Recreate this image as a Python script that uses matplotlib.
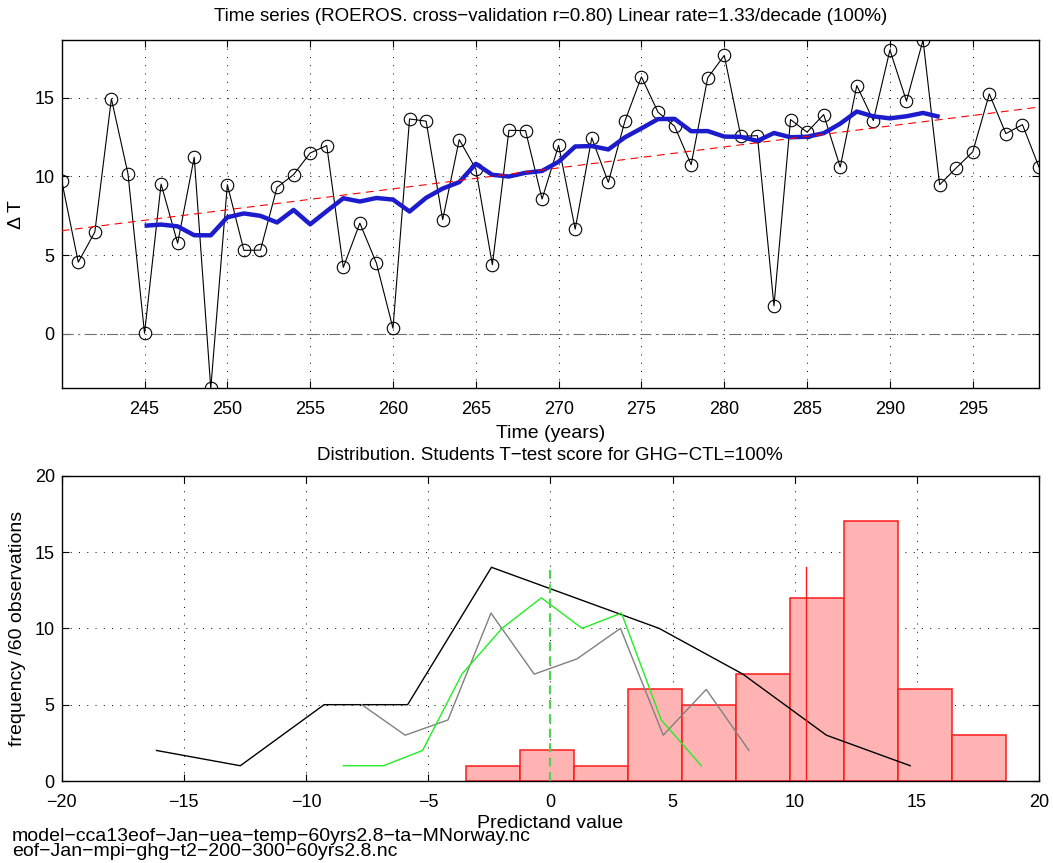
import numpy as np
import matplotlib
matplotlib.use("Agg")
import matplotlib.pyplot as plt

plt.rcParams['font.family'] = ['Liberation Sans', 'DejaVu Sans']
plt.rcParams['font.size'] = 13

# ---- Time series of the predictand (annual values) ----
years = np.arange(240, 300)
delta_t = [
    9.72, 4.55, 6.46, 14.92, 10.17, 0.04, 9.51, 5.76, 11.21, -3.45,
    9.47, 5.30, 5.32, 9.30, 10.11, 11.48, 11.95, 4.22, 7.03, 4.49,
    0.36, 13.64, 13.50, 7.25, 12.33, 10.47, 4.39, 12.92, 12.90, 8.56,
    11.97, 6.65, 12.44, 9.62, 13.50, 16.31, 14.07, 13.18, 10.74, 16.25,
    17.67, 12.54, 12.58, 1.78, 13.60, 12.80, 13.92, 10.59, 15.76, 13.54,
    18.01, 14.77, 18.65, 9.47, 10.53, 11.55, 15.23, 12.71, 13.28, 10.59,
]
rate_per_decade = 1.33
smooth_window = 10
smooth_first, smooth_last = 245, 293

# ---- Distribution panel: other model runs (frequency per bin) ----
ctl_x = [-16.12, -12.69, -9.26, -5.84, -2.41, 1.02, 4.45, 7.88, 11.30, 14.73]
ctl_n = [2, 1, 5, 5, 14, 12, 10, 7, 3, 1]
gray_x = [-7.72, -5.94, -4.19, -2.43, -0.66, 1.09, 2.87, 4.62, 6.38, 8.13]
gray_n = [5, 3, 4, 11, 7, 8, 10, 3, 6, 2]
green_x = [-8.47, -6.83, -5.23, -3.62, -1.98, -0.37, 1.30, 2.91, 4.54, 6.18]
green_n = [1, 1, 2, 7, 10, 12, 10, 11, 4, 1]
ctl_mean = 0.0
marker_height = 14

title_top = "Time series (ROEROS. cross\u2212validation r=0.80) Linear rate=1.33/decade (100%)"
title_bottom = "Distribution. Students T\u2212test score for GHG\u2212CTL=100%"
file_lines = ["model\u2212cca13eof\u2212Jan\u2212uea\u2212temp\u221260yrs2.8\u2212ta\u2212MNorway.nc",
              "eof\u2212Jan\u2212mpi\u2212ghg\u2212t2\u2212200\u2212300\u221260yrs2.8.nc"]

TICK_FS, LABEL_FS, TITLE_FS = 13, 14, 13.5

W, H = 1053, 863
fig = plt.figure(figsize=(W / 100, H / 100), dpi=100)


def frac_axes(x0, y0, x1, y1):
    return fig.add_axes([x0 / W, 1 - y1 / H, (x1 - x0) / W, (y1 - y0) / H])


grid_kw = dict(color='black', linestyle=(0, (1, 7.5)), linewidth=0.7)


def style(ax):
    ax.tick_params(direction='in', top=True, right=True, length=5, width=0.8,
                   labelsize=TICK_FS)
    ax.tick_params(axis='x', pad=9)
    ax.tick_params(axis='y', pad=5)
    for s in ax.spines.values():
        s.set_linewidth(1.0)
    ax.grid(True, **grid_kw)
    ax.set_axisbelow(True)


# ---------------- top panel ----------------
ax1 = frac_axes(61.7, 40, 1039, 388.3)
series = np.array(delta_t)
ax1.plot(years, series, color='black', lw=0.8, marker='o', ms=9,
         mfc='none', mec='black', mew=0.8, zorder=3)

# running mean
run = np.convolve(series, np.ones(smooth_window) / smooth_window, mode='valid')
run_years = years[:len(run)] + smooth_window // 2 - 1
sel = (run_years >= smooth_first) & (run_years <= smooth_last)
ax1.plot(run_years[sel], run[sel], color='#1c1ccc', lw=3.2, zorder=4,
         solid_capstyle='butt')

# linear trend
slope = rate_per_decade / 10.0
x_bar, y_bar = years.mean(), series.mean()
tx = np.array([years[0], years[-1]])
ax1.plot(tx, y_bar + slope * (tx - x_bar), color='red', lw=0.8,
         dashes=(7, 5), zorder=5)
ax1.axhline(0, color='#707070', lw=0.8, linestyle=(0, (10, 4, 2, 4)), zorder=2)

ax1.set_xlim(years[0], years[-1])
ax1.set_ylim(series.min(), series.max())
ax1.set_xticks(np.arange(245, 300, 5))
ax1.set_yticks([0, 5, 10, 15])
style(ax1)
ax1.set_title(title_top, fontsize=TITLE_FS, pad=13.5)
ax1.set_xlabel("Time (years)", fontsize=LABEL_FS, labelpad=5)
ax1.set_ylabel("\u0394 T", fontsize=LABEL_FS, labelpad=7)

# ---------------- bottom panel ----------------
ax2 = frac_axes(61.7, 475.7, 1039, 781)
ax2.hist(series, bins=10, facecolor='#ffb3b3', edgecolor='#ff1a1a',
         linewidth=1.1, zorder=2)
ax2.plot(ctl_x, ctl_n, color='black', lw=1.0, zorder=4)
ax2.plot(gray_x, gray_n, color='#808080', lw=1.0, zorder=4)
ax2.plot(green_x, green_n, color='#22ee22', lw=1.0, zorder=4)
ax2.plot([ctl_mean, ctl_mean], [0, marker_height], color='#55d055', lw=1.6,
         dashes=(4, 2.5), zorder=5)
mean_val = series.mean()
ax2.plot([mean_val, mean_val], [0, marker_height], color='#ff1a1a', lw=1.0,
         zorder=5)

ax2.set_xlim(-20, 20)
ax2.set_ylim(0, 20)
ax2.set_xticks(np.arange(-20, 21, 5))
ax2.set_yticks(np.arange(0, 21, 5))
style(ax2)
ax2.set_title(title_bottom, fontsize=TITLE_FS, pad=11)
ax2.set_xlabel("Predictand value", fontsize=LABEL_FS, labelpad=3)
ax2.set_ylabel("frequency /60 observations", fontsize=LABEL_FS, labelpad=6)

# source file names, two tightly spaced lines
fig.text(12 / W, 1 - 844 / H, "\n".join(file_lines), fontsize=LABEL_FS,
         va='center', ha='left', linespacing=0.8)

fig.savefig("out.png", dpi=100)
